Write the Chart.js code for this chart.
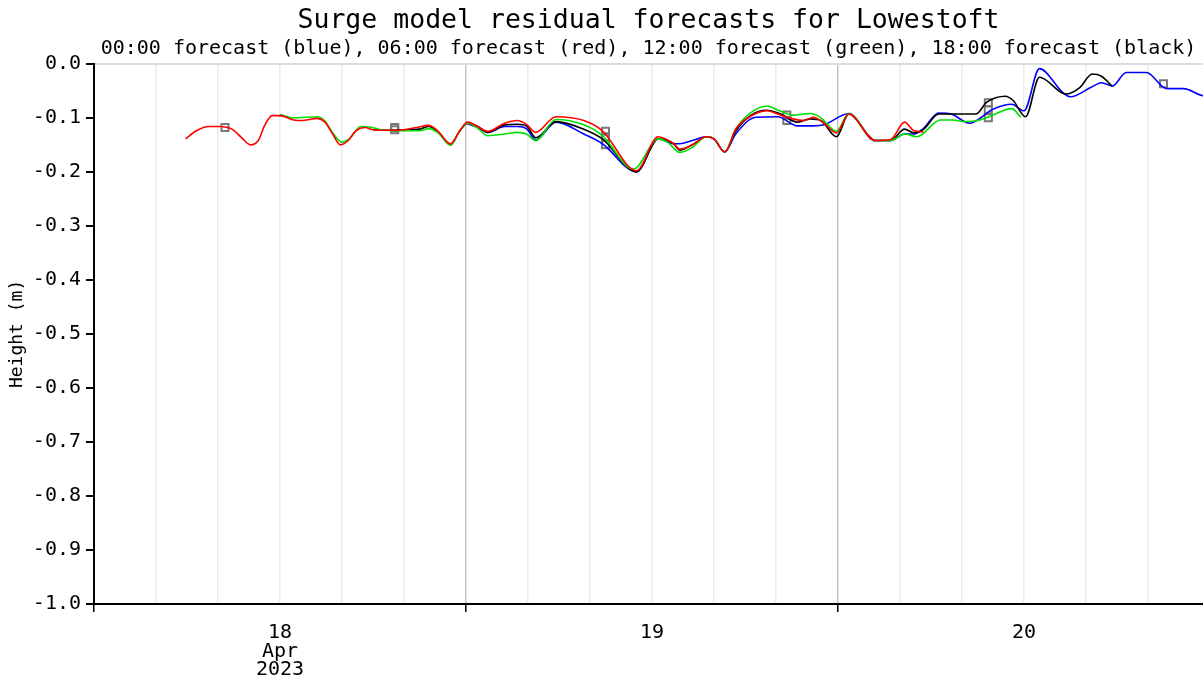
<!DOCTYPE html>
<html lang="en-GB">
<head>
  <meta charset="utf-8">
  <title>Surge model residual forecasts for Lowestoft</title>
  <script src="https://cdn.jsdelivr.net/npm/chart.js@4.4.1/dist/chart.umd.min.js"></script>
  <style>
  body { margin: 0; background: #fff; }
  canvas { display: block; }
  </style>
</head>
<body>
<canvas id="surge" width="1203" height="679"></canvas>
<script>
// hours counted from 18 Apr 2023 00:00
var dayLabels = [['18', 'Apr', '2023'], '19', '20'];
var yTicks = [0.0, -0.1, -0.2, -0.3, -0.4, -0.5, -0.6, -0.7, -0.8, -0.9, -1.0];

// 06:00 forecast (red)
var redHours = [5.9, 6.6, 7.4, 8.1, 8.9, 9.5, 10.1, 10.6, 11.0, 11.5, 12.0, 12.9, 13.4, 14.4, 14.9, 15.4, 15.9, 16.4, 16.9, 17.5, 18.0, 19.0, 20.0, 20.8, 21.6, 22.2, 23.0, 23.6, 24.1, 24.7, 25.4, 26.5, 27.3, 27.9, 28.5, 29.8, 31.6, 32.8, 35.0, 36.4, 37.4, 37.8, 38.6, 39.5, 40.0, 40.7, 41.4, 42.2, 43.4, 44.3, 45.1, 45.8, 46.4, 47.1, 47.9, 48.7, 50.4, 51.4, 52.3, 52.9, 53.5];
var redValues = [-0.139, -0.124, -0.116, -0.116, -0.121, -0.136, -0.150, -0.142, -0.115, -0.096, -0.096, -0.104, -0.105, -0.101, -0.108, -0.130, -0.150, -0.142, -0.124, -0.118, -0.122, -0.123, -0.122, -0.118, -0.114, -0.125, -0.148, -0.124, -0.108, -0.115, -0.125, -0.110, -0.105, -0.112, -0.127, -0.098, -0.105, -0.124, -0.198, -0.135, -0.148, -0.158, -0.150, -0.135, -0.139, -0.163, -0.121, -0.100, -0.087, -0.095, -0.102, -0.105, -0.099, -0.110, -0.128, -0.093, -0.142, -0.140, -0.108, -0.124, -0.126];

// 12:00 forecast (green)
var greenHours = [12.0, 12.9, 14.4, 14.9, 15.4, 16.0, 16.5, 17.2, 17.8, 18.5, 20.0, 21.0, 21.6, 22.2, 23.0, 23.6, 24.1, 24.7, 25.4, 26.5, 27.3, 27.9, 28.5, 29.8, 31.6, 32.8, 34.8, 36.4, 37.0, 37.8, 38.6, 39.5, 40.0, 40.7, 41.4, 42.4, 43.4, 44.3, 45.1, 45.8, 46.2, 46.9, 47.9, 48.7, 50.4, 51.4, 52.3, 53.1, 54.6, 55.4, 56.1, 57.0, 57.9, 59.2, 59.8];
var greenValues = [-0.094, -0.100, -0.098, -0.106, -0.128, -0.145, -0.138, -0.116, -0.117, -0.122, -0.124, -0.124, -0.120, -0.128, -0.150, -0.124, -0.110, -0.118, -0.133, -0.130, -0.127, -0.130, -0.142, -0.103, -0.113, -0.133, -0.195, -0.139, -0.145, -0.164, -0.155, -0.135, -0.139, -0.163, -0.121, -0.090, -0.078, -0.088, -0.095, -0.093, -0.092, -0.100, -0.125, -0.092, -0.142, -0.142, -0.130, -0.135, -0.104, -0.104, -0.107, -0.105, -0.096, -0.083, -0.099];

// 18:00 forecast (black)
var blackHours = [18.0, 19.0, 20.0, 21.0, 21.6, 22.2, 23.0, 23.6, 24.1, 24.7, 25.4, 26.5, 27.3, 27.9, 28.5, 29.8, 31.6, 32.8, 35.0, 36.4, 37.4, 37.8, 38.6, 39.5, 40.0, 40.7, 41.4, 42.4, 43.4, 44.3, 45.4, 46.2, 46.9, 47.9, 48.7, 50.4, 51.4, 52.3, 52.9, 53.5, 54.5, 55.8, 56.9, 57.6, 58.8, 59.3, 60.1, 61.0, 62.7, 63.6, 64.4, 65.0, 65.7];
var blackValues = [-0.122, -0.123, -0.122, -0.121, -0.116, -0.126, -0.150, -0.124, -0.110, -0.115, -0.127, -0.113, -0.112, -0.115, -0.137, -0.107, -0.121, -0.139, -0.200, -0.139, -0.148, -0.160, -0.150, -0.135, -0.139, -0.163, -0.125, -0.095, -0.086, -0.093, -0.108, -0.102, -0.105, -0.135, -0.093, -0.142, -0.142, -0.121, -0.128, -0.122, -0.093, -0.093, -0.093, -0.071, -0.060, -0.068, -0.098, -0.025, -0.056, -0.044, -0.019, -0.023, -0.042];

// 00:00 forecast (blue)
var blueHours = [24.0, 24.7, 25.4, 26.5, 27.3, 27.9, 28.5, 29.8, 31.6, 32.8, 35.0, 36.4, 37.4, 37.8, 38.6, 39.5, 40.0, 40.7, 41.4, 42.7, 44.1, 45.4, 46.4, 47.1, 48.7, 50.4, 51.4, 52.3, 52.9, 53.5, 54.5, 55.3, 56.5, 58.0, 59.2, 60.0, 61.0, 62.5, 63.0, 64.3, 65.0, 65.7, 66.6, 67.9, 69.2, 70.3, 71.4, 72.0];
var blueValues = [-0.110, -0.117, -0.127, -0.116, -0.116, -0.120, -0.141, -0.108, -0.130, -0.148, -0.200, -0.139, -0.148, -0.148, -0.142, -0.135, -0.139, -0.163, -0.130, -0.099, -0.098, -0.115, -0.115, -0.113, -0.092, -0.142, -0.142, -0.130, -0.130, -0.120, -0.091, -0.093, -0.110, -0.084, -0.075, -0.087, -0.009, -0.053, -0.061, -0.044, -0.035, -0.041, -0.016, -0.016, -0.046, -0.046, -0.058, -0.062];

// grey square markers
var markHours = [8.45, 19.4, 19.4, 33.0, 33.0, 33.0, 44.7, 44.7, 57.7, 57.7, 57.7, 69.0];
var markValues = [-0.118, -0.118, -0.122, -0.125, -0.135, -0.150, -0.095, -0.105, -0.072, -0.085, -0.100, -0.037];

function pts(hours, values) {
  return hours.map(function(h, i) { return { x: h, y: values[i] }; });
}

function lineSet(label, colour, hours, values) {
  return {
    label: label,
    data: pts(hours, values),
    borderColor: colour,
    borderWidth: 1.6,
    pointRadius: 0,
    cubicInterpolationMode: 'monotone',
    fill: false
  };
}

var mono = '"DejaVu Sans Mono", "Liberation Mono", monospace';
Chart.defaults.font.family = mono;
Chart.defaults.color = '#000';

new Chart(document.getElementById('surge').getContext('2d'), {
  type: 'line',
  data: {
    datasets: [
      lineSet('06:00 forecast', '#ff0000', redHours, redValues),
      lineSet('12:00 forecast', '#00e000', greenHours, greenValues),
      lineSet('18:00 forecast', '#000000', blackHours, blackValues),
      lineSet('00:00 forecast', '#0000ff', blueHours, blueValues),
      {
        label: 'markers',
        data: pts(markHours, markValues),
        showLine: false,
        pointStyle: 'rect',
        pointRadius: 5,
        borderColor: '#787878',
        borderWidth: 2,
        backgroundColor: 'rgba(0,0,0,0)'
      }
    ]
  },
  options: {
    responsive: false,
    animation: false,
    layout: { padding: 0, autoPadding: false },
    plugins: {
      legend: { display: false },
      tooltip: { enabled: false },
      title: {
        display: true,
        fullSize: false,
        text: 'Surge model residual forecasts for Lowestoft',
        font: { size: 26.5, weight: 'normal' },
        padding: { top: 5, bottom: 0 }
      },
      subtitle: {
        display: true,
        fullSize: false,
        text: '00:00 forecast (blue), 06:00 forecast (red), 12:00 forecast (green), 18:00 forecast (black)',
        color: '#000',
        font: { size: 20, weight: 'normal' },
        padding: { top: 0, bottom: 3 }
      }
    },
    scales: {
      x: {
        type: 'linear',
        min: 0,
        max: 71.55,
        afterBuildTicks: function(scale) {
          var t = [];
          for (var h = 0; h <= 68; h += 4) t.push({ value: h });
          scale.ticks = t;
        },
        afterFit: function(scale) {
          scale.height = 75;
          scale.paddingLeft = 0;
          scale.paddingRight = 0;
        },
        border: { color: '#000', width: 2 },
        grid: {
          color: function(ctx) {
            if (!ctx.tick) return '#ebebeb';
            return ctx.tick.value % 24 === 0 ? '#c4c4c4' : '#ebebeb';
          },
          tickColor: function(ctx) {
            if (!ctx.tick) return 'rgba(0,0,0,0)';
            return ctx.tick.value % 24 === 0 ? '#000' : 'rgba(0,0,0,0)';
          },
          tickLength: 8,
          lineWidth: 1.5
        },
        ticks: {
          autoSkip: false,
          maxRotation: 0,
          padding: 12,
          font: { size: 20, lineHeight: 0.92 },
          callback: function(v) {
            if (v % 24 === 12) return dayLabels[(v - 12) / 24];
            return '';
          }
        }
      },
      y: {
        min: -1,
        max: 0,
        afterBuildTicks: function(scale) {
          scale.ticks = yTicks.map(function(v) { return { value: v }; });
        },
        afterFit: function(scale) { scale.width = 94; },
        border: { color: '#000', width: 2 },
        grid: {
          color: function(ctx) {
            return ctx.tick && ctx.tick.value === 0 ? '#dcdcdc' : 'rgba(0,0,0,0)';
          },
          tickColor: '#000',
          tickLength: 8,
          lineWidth: 2
        },
        ticks: {
          padding: 5,
          font: { size: 20 },
          callback: function(v) { return v.toFixed(1); }
        },
        title: {
          display: true,
          text: 'Height (m)',
          font: { size: 18 },
          padding: { top: 7, bottom: 0 }
        }
      }
    }
  }
});
</script>
</body>
</html>
